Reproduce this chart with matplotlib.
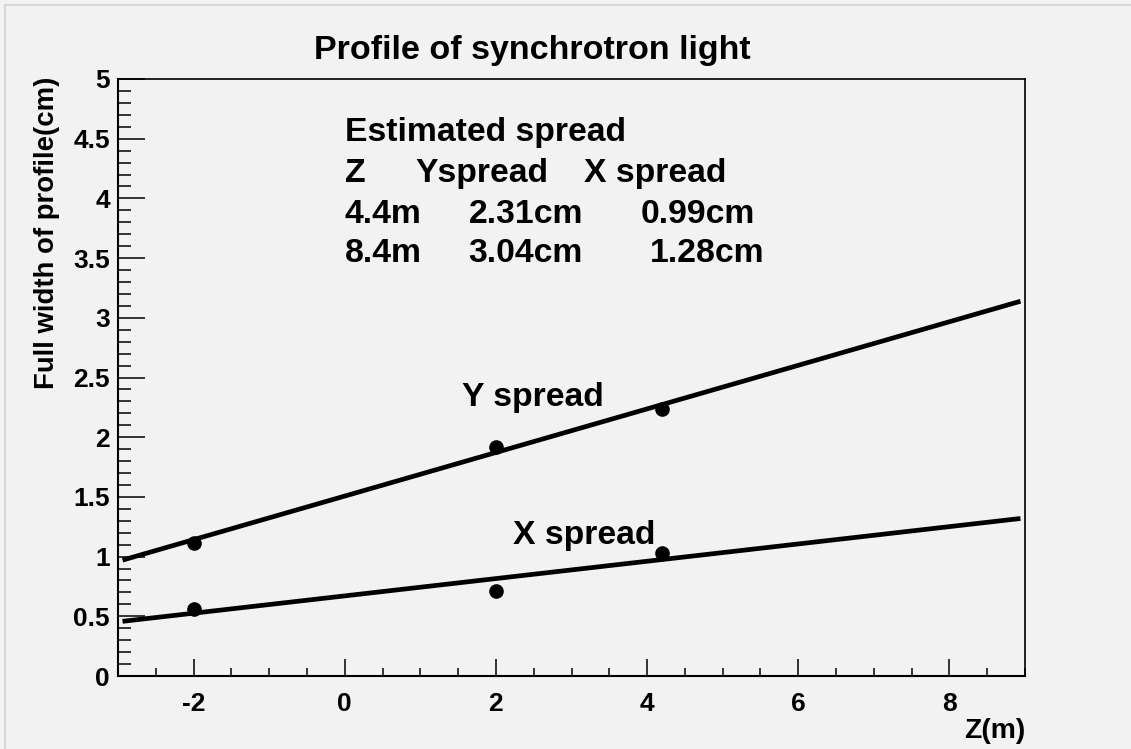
import matplotlib
matplotlib.use("Agg")
import matplotlib.pyplot as plt
import numpy as np
from matplotlib.ticker import MultipleLocator, FuncFormatter
from matplotlib.lines import Line2D

# ---- data ----
z_points = [-2.0, 2.0, 4.2]
y_spread = [1.11, 1.915, 2.234]
x_spread = [0.559, 0.715, 1.033]

y_fit = (1.507, 0.1825)
x_fit = (0.671, 0.0725)
fit_range = (-2.94, 8.94)

table_rows = [
    ["Z", "Yspread", "X spread"],
    ["4.4m", "2.31cm", "0.99cm"],
    ["8.4m", "3.04cm", "1.28cm"],
]

title = "Profile of synchrotron light"
xlabel = "Z(m)"
ylabel = "Full width of profile(cm)"

# ---- style ----
bg = "#f2f2f2"
plt.rcParams["font.family"] = ["Liberation Sans", "DejaVu Sans"]
plt.rcParams["font.weight"] = "bold"

W, H = 1131, 749
fig = plt.figure(figsize=(W / 100, H / 100), dpi=100, facecolor=bg)
l, r, t, b = 118, 1025, 79, 676
ax = fig.add_axes([l / W, 1 - b / H, (r - l) / W, (b - t) / H], facecolor=bg)

ax.set_xlim(-3, 9)
ax.set_ylim(0, 5)

zz = np.linspace(fit_range[0], fit_range[1], 200)
ax.plot(zz, y_fit[0] + y_fit[1] * zz, color="black", lw=3.4, solid_capstyle="butt")
ax.plot(zz, x_fit[0] + x_fit[1] * zz, color="black", lw=3.4, solid_capstyle="butt")
ax.plot(z_points, y_spread, "o", color="black", ms=9.5, ls="none")
ax.plot(z_points, x_spread, "o", color="black", ms=9.5, ls="none")

ax.xaxis.set_major_locator(MultipleLocator(2))
ax.xaxis.set_minor_locator(MultipleLocator(0.5))
ax.yaxis.set_major_locator(MultipleLocator(0.5))
ax.yaxis.set_minor_locator(MultipleLocator(0.1))

ax.tick_params(axis="x", which="major", direction="in", length=12.2, width=1.1, pad=11.5,
               labelsize=19, top=False)
ax.tick_params(axis="x", which="minor", direction="in", length=5.8, width=1.1, top=False)
ax.tick_params(axis="y", which="major", direction="in", length=19.4, width=1.1, pad=5.8,
               labelsize=19, right=False)
ax.tick_params(axis="y", which="minor", direction="in", length=9.4, width=1.1, right=False)

fmt = FuncFormatter(lambda v, pos: f"{v:g}")
ax.xaxis.set_major_formatter(fmt)
ax.yaxis.set_major_formatter(fmt)
for lab in ax.get_xticklabels() + ax.get_yticklabels():
    lab.set_fontweight("bold")

for sp in ax.spines.values():
    sp.set_linewidth(1.5)
    sp.set_color("black")
ax.spines["top"].set_linewidth(1.2)
ax.spines["right"].set_linewidth(1.2)

# titles
fig.text(532 / W, 1 - 59 / H, title, ha="center", va="baseline", fontsize=24.5, fontweight="bold")
fig.text(1025 / W, 1 - 731 / H, xlabel, ha="right", va="center", fontsize=20.3, fontweight="bold")
fig.text(47 / W, 1 - 77 / H, ylabel, ha="center", va="top", rotation=90, fontsize=19.8,
         fontweight="bold")

# annotation block (data coordinates)
txt_kw = dict(fontsize=24.3, fontweight="bold", va="baseline", ha="left")
ax.text(0.0, 4.48, "Estimated spread", **txt_kw)
col_x = [[0.0, 0.93, 3.16], [0.0, 1.64, 3.92], [0.0, 1.64, 4.04]]
row_y = [4.14, 3.79, 3.47]
for row, xs, yy in zip(table_rows, col_x, row_y):
    for s, xx in zip(row, xs):
        ax.text(xx, yy, s, **txt_kw)

ax.text(1.55, 2.26, "Y spread", **txt_kw)
ax.text(2.22, 1.105, "X spread", **txt_kw)

# canvas border lines
fig.add_artist(Line2D([5 / W, 5 / W], [0, 1 - 5 / H], transform=fig.transFigure,
                      color="#d6d6d6", lw=1.5))
fig.add_artist(Line2D([5 / W, 1], [1 - 5 / H, 1 - 5 / H], transform=fig.transFigure,
                      color="#d6d6d6", lw=1.5))

fig.savefig("out.png", dpi=100, facecolor=bg)
